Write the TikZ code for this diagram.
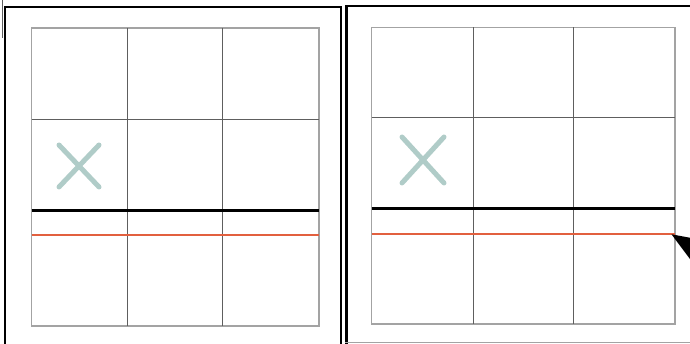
\documentclass[tikz,border=0pt]{standalone}
\usetikzlibrary{arrows.meta}
\definecolor{gDark}{HTML}{5E5E5E}
\definecolor{gLight}{HTML}{A3A3A3}
\definecolor{xTeal}{HTML}{B0CCC8}
\definecolor{lRed}{HTML}{E2603F}
\tikzset{
  frm/.style   = {draw=black, line width=2.2pt},
  grin/.style  = {draw=gDark, line width=0.8pt},
  grout/.style = {draw=gLight, line width=1.3pt},
  thk/.style   = {draw=black, line width=3pt},
  rd/.style    = {draw=lRed, line width=1.4pt},
  xm/.style    = {draw=xTeal, line width=5pt, line cap=round},
  ar/.style    = {-{Triangle[length=40pt, width=29pt]}, draw=black, line width=6pt},
}
\begin{document}
\begin{tikzpicture}[x=1pt, y=-1pt]
  \useasboundingbox (0,0) rectangle (690,344);
  \clip (0,0) rectangle (690,344);
  % frames
  \draw[gDark, line width=0.8pt] (2,0) -- (2,38);
  \draw[frm] (5,360) -- (5,7) -- (341,7) -- (341,360);
  \draw[frm] (346.5,360) -- (346.5,6) -- (700,6);
  \draw[gLight, line width=1pt] (345,342.5) -- (690,342.5);
  % the two grids: left, first col, second col, right / top, row line, black, red, bottom / x centre
  \foreach \xl/\xa/\xb/\xr/\yt/\ym/\yk/\yr/\yb/\cx/\cy/\dx/\dy in
    {31.7/127.7/222.7/319/28/119/211/235/326/79/166/20/21,
     371.7/473.3/573.3/675/27.3/117.3/209/234/324/423/160/21/23}{
    \draw[grout] (\xl,\yt) rectangle (\xr,\yb);
    \draw[grin] (\xa,\yt) -- (\xa,\yb);
    \draw[grin] (\xb,\yt) -- (\xb,\yb);
    \draw[grin] (\xl,\ym) -- (\xr,\ym);
    \draw[rd] (\xl,\yr) -- (\xr,\yr);
    \draw[thk] (\xl,\yk) -- (\xr,\yk);
    \draw[xm] (\cx-\dx,\cy-\dy) -- (\cx+\dx,\cy+\dy);
    \draw[xm] (\cx-\dx,\cy+\dy) -- (\cx+\dx,\cy-\dy);
  }
  % pointer at the red line end
  \coordinate (redR) at (671,234);
  \coordinate (arS) at (740,277);
  \draw[ar] (arS) -- (redR);
\end{tikzpicture}
\end{document}
